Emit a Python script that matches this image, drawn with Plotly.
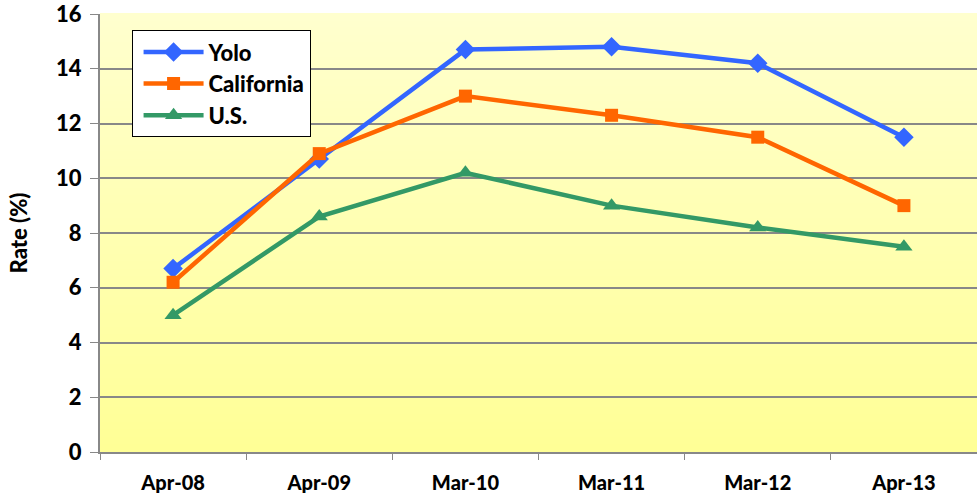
import plotly.graph_objects as go

# Unemployment rates by period
periods = ["Apr-08", "Apr-09", "Mar-10", "Mar-11", "Mar-12", "Apr-13"]
yolo = [6.7, 10.7, 14.7, 14.8, 14.2, 11.5]
california = [6.2, 10.9, 13.0, 12.3, 11.5, 9.0]
us = [5.0, 8.6, 10.2, 9.0, 8.2, 7.5]
y_ticks = [0, 2, 4, 6, 8, 10, 12, 14, 16]

FONT = "Lato"

fig = go.Figure()

series = [
    ("Yolo", yolo, "#3366FF", "diamond", 15),
    ("California", california, "#FF6600", "square", 13),
    ("U.S.", us, "#339966", "triangle-up", 15),
]
for name, vals, color, symbol, size in series:
    fig.add_trace(go.Scatter(
        x=periods, y=vals, name=name, mode="lines+markers",
        line=dict(color=color, width=4.5),
        marker=dict(symbol=symbol, size=size, color=color),
    ))

# Vertical pale-to-deeper yellow gradient behind the plot area
n_bands = 60
top = (255, 255, 206)
bottom = (255, 255, 150)
shapes = []
for i in range(n_bands):
    t = (i + 0.5) / n_bands
    r = round(top[0] + (bottom[0] - top[0]) * t)
    g = round(top[1] + (bottom[1] - top[1]) * t)
    b = round(top[2] + (bottom[2] - top[2]) * t)
    shapes.append(dict(
        type="rect", xref="paper", yref="paper",
        x0=0, x1=1, y0=1 - (i + 1) / n_bands, y1=1 - i / n_bands + 0.002,
        fillcolor=f"rgb({r},{g},{b})", line=dict(width=0), layer="below",
    ))

fig.update_layout(
    width=977, height=499,
    margin=dict(l=100, r=0, t=14, b=47),
    paper_bgcolor="white",
    plot_bgcolor="rgba(0,0,0,0)",
    shapes=shapes,
    font=dict(family=FONT, color="black"),
    legend=dict(
        x=0.036, y=0.963, xanchor="left", yanchor="top",
        bgcolor="white", bordercolor="black", borderwidth=1,
        font=dict(family=FONT, size=22, color="black", weight=900),
        itemwidth=60, tracegroupgap=10, indentation=6,
    ),
    xaxis=dict(
        type="category", range=[-0.5, 5.5],
        tickson="boundaries", ticks="outside", ticklen=6, tickcolor="#888888",
        showline=True, linecolor="#888888", linewidth=2,
        showgrid=False,
        tickfont=dict(family=FONT, size=20, color="black", weight=900),
        ticklabelstandoff=12,
    ),
    yaxis=dict(
        range=[0, 16], tickvals=y_ticks,
        ticks="outside", ticklen=8, tickcolor="#888888",
        showline=True, linecolor="#888888", linewidth=2,
        showgrid=True, gridcolor="#888888", gridwidth=1.5,
        zeroline=False,
        tickfont=dict(family=FONT, size=22, color="black", weight=900),
        ticklabelstandoff=4, ticklabeloverflow="allow",
        title=dict(text="Rate (%)", standoff=22,
                   font=dict(family=FONT, size=22, color="black", weight=900)),
    ),
)

fig.write_html("out.html")
